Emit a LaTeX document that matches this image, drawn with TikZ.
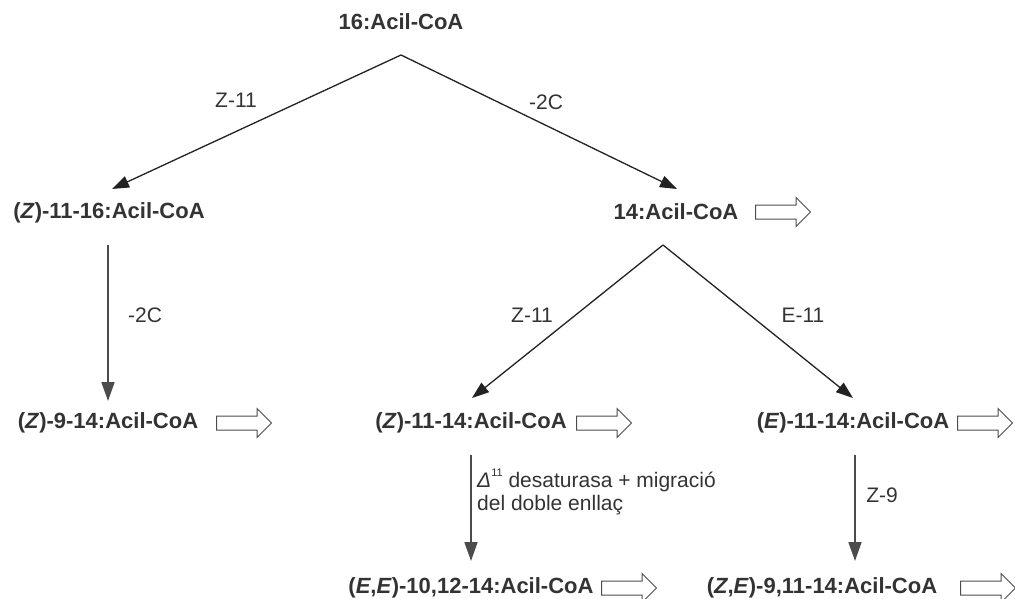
\documentclass[tikz,border=0pt]{standalone}
\usepackage{fontspec}
\setmainfont{Liberation Sans}
\usetikzlibrary{arrows.meta,shapes.arrows}
\definecolor{txt}{HTML}{333333}
\definecolor{ln}{HTML}{222222}
\begin{document}
\begin{tikzpicture}[x=1pt,y=-1pt,
  comp/.style={font=\fontsize{22}{26}\selectfont\bfseries, text=txt, inner sep=0pt},
  lab/.style={font=\fontsize{21}{23}\selectfont, text=txt, inner sep=0pt},
  conn/.style={draw=ln, line width=1.3pt, -{Triangle[length=17pt,width=12pt]}},
  vconn/.style={draw=black!70, line width=1.8pt, -{Triangle[length=19pt,width=13pt]}},
  hollow/.style={single arrow, draw=black!70, line width=1pt, minimum height=55pt,
     inner sep=6.5pt, single arrow head extend=7.5pt, single arrow tip angle=90, anchor=west}
]
\useasboundingbox (0,0) rectangle (1015,599);

% compounds
\node[comp] (top) at (401,22) {16:Acil-CoA};
\node[comp] (zl) at (109,213) {(\textit{Z})-11-16:Acil-CoA};
\node[comp] (f14) at (676,212) {14:Acil-CoA};
\node[comp] (z914) at (108,423) {(\textit{Z})-9-14:Acil-CoA};
\node[comp] (z1114) at (471,423) {(\textit{Z})-11-14:Acil-CoA};
\node[comp] (e1114) at (853,423) {(\textit{E})-11-14:Acil-CoA};
\node[comp] (ee) at (471,588) {(\textit{E},\textit{E})-10,12-14:Acil-CoA};
\node[comp] (ze) at (822,588) {(\textit{Z},\textit{E})-9,11-14:Acil-CoA};

% hollow arrows
\node[hollow] (h1) at (755,212) {};
\node[hollow] (h2) at (216,423) {};
\node[hollow] (h3) at (576,423) {};
\node[hollow] (h4) at (957,423) {};
\node[hollow] (h5) at (601,588) {};
\node[hollow] (h6) at (960,588) {};

% connector points
\coordinate (a1) at (401,55);
\coordinate (t1) at (112,189);
\coordinate (t2) at (677,189);
\coordinate (a2) at (663,245);
\coordinate (t3) at (472,398);
\coordinate (t4) at (853,398);
\coordinate (v1s) at (108,245);
\coordinate (v1e) at (108,401);
\coordinate (v2s) at (471,455);
\coordinate (v2e) at (471,561);
\coordinate (v3s) at (855,455);
\coordinate (v3e) at (855,561);

\draw[conn] (a1) -- (t1);
\draw[conn] (a1) -- (t2);
\draw[conn] (a2) -- (t3);
\draw[conn] (a2) -- (t4);
\draw[vconn] (v1s) -- (v1e);
\draw[vconn] (v2s) -- (v2e);
\draw[vconn] (v3s) -- (v3e);

% labels
\node[lab] (l1) at (236,100) {Z-11};
\node[lab] (l2) at (546,102) {-2C};
\node[lab] (l3) at (145,315) {-2C};
\node[lab] (l4) at (532,315) {Z-11};
\node[lab] (l5) at (803,315) {E-11};
\node[lab] (l6) at (882,495) {Z-9};
\node[lab, anchor=west, align=left] (l7) at (477,492)
  {\textit{Δ}\raisebox{0.55em}{\fontsize{11}{12}\selectfont 11} desaturasa + migració\\del doble enllaç};
\end{tikzpicture}
\end{document}
